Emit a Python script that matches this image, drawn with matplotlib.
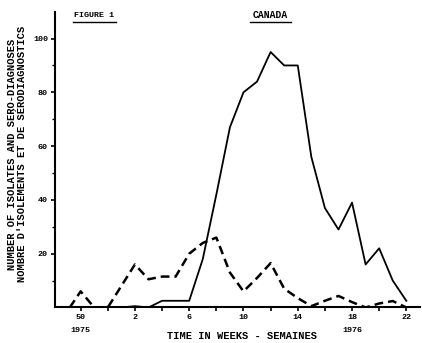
import matplotlib.pyplot as plt
from matplotlib.lines import Line2D

# weeks 50, 51, 52 (1975) then 1 ... 22 (1976)
weeks = [50, 51, 52] + list(range(1, 23))
isolates = [0, 0, 0, 0, 0.5, 0, 2.5, 2.5, 2.5, 18, 42, 67, 80, 84, 95, 90, 90,
            56, 37, 29, 39, 16, 22, 10, 2.5]
sero = [6, 0, 0, 8, 16, 10.5, 11.5, 11.5, 20, 24, 26, 13, 6, 11, 16.5, 7, 3.5,
        0.5, 2.5, 4.3, 2, 0, 1.5, 2.4, 0]
week_labels = ["50", "2", "6", "10", "14", "18", "22"]
y_ticks = [20, 40, 60, 80, 100]

mono = "Liberation Mono"

fig = plt.figure(figsize=(4.22, 3.43), dpi=100)
ax = fig.add_axes([0.130, 0.1035, 0.865, 0.8625])

x = list(range(len(weeks)))
# both series start at zero before week 50
ax.plot([-1.9] + x, [0] + isolates, color="black", lw=1.3)
ax.plot([-0.8] + x, [0] + sero, color="black", lw=1.8, dashes=(3.5, 2))

ax.set_xlim(-1.9, 25)
ax.set_ylim(0, 110)

for s in ["top", "right"]:
    ax.spines[s].set_visible(False)
ax.spines["left"].set_linewidth(1.5)
ax.spines["bottom"].set_linewidth(1.5)

ax.set_xticks(range(0, 25, 2))
ax.set_xticklabels([week_labels[i // 2] if i % 2 == 0 else "" for i in range(13)])
ax.set_yticks(y_ticks)
ax.set_yticks(range(10, 110, 20), minor=True)
ax.tick_params(axis="both", direction="out", length=3, width=1.2, pad=2)
ax.tick_params(axis="y", which="minor", length=2, width=1)
for lab in ax.get_xticklabels() + ax.get_yticklabels():
    lab.set_fontfamily(mono)
    lab.set_fontweight("bold")
    lab.set_fontsize(6)

ax.text(0, -8.4, "1975", fontsize=6, fontweight="bold", family=mono,
        ha="center", va="center")
ax.text(20, -8.4, "1976", fontsize=6, fontweight="bold", family=mono,
        ha="center", va="center")
ax.text(11.9, -10.6, "TIME IN WEEKS - SEMAINES", fontsize=7.5, fontweight="bold",
        family=mono, ha="center", va="center")

fig.text(0.028, 0.55, "NUMBER OF ISOLATES AND SERO-DIAGNOSES", rotation=90,
         fontsize=7.5, fontweight="bold", family=mono, ha="center", va="center")
fig.text(0.053, 0.55, "NOMBRE D'ISOLEMENTS ET DE SÉRODIAGNOSTICS", rotation=90,
         fontsize=7.5, fontweight="bold", family=mono, ha="center", va="center")

# titles with underlines
fig.text(0.223, 0.955, "FIGURE 1", fontsize=6, fontweight="bold", family=mono,
         ha="center", va="center")
fig.add_artist(Line2D([0.172, 0.276], [0.935, 0.935], color="black", lw=1))
fig.text(0.641, 0.955, "CANADA", fontsize=7, fontweight="bold", family=mono,
         ha="center", va="center")
fig.add_artist(Line2D([0.593, 0.690], [0.935, 0.935], color="black", lw=1))

fig.savefig("out.png", dpi=100)
